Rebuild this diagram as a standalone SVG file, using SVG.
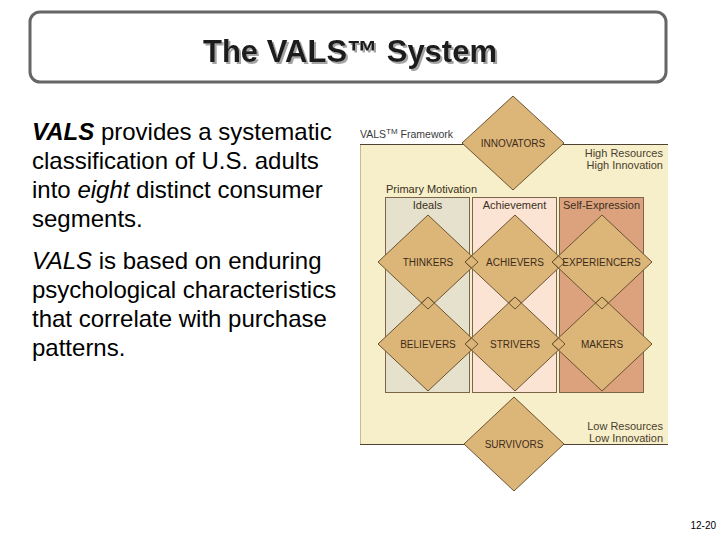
<svg xmlns="http://www.w3.org/2000/svg" width="720" height="540" viewBox="0 0 720 540">
<defs>
<filter id="shadow" x="-5%" y="-20%" width="110%" height="140%">
<feDropShadow dx="2" dy="2" stdDeviation="0.6" flood-color="#9a9a9a" flood-opacity="0.9"/>
</filter>
</defs>
<style>
text{font-family:"Liberation Sans",Arial,Helvetica,sans-serif}
.title{font-size:31px;font-weight:bold;fill:#1a1a1a}
.body{font-size:24px;fill:#000}
.fw{font-size:10.5px;fill:#3a3a3a}
.hdr{font-size:11px;fill:#3a3020;text-anchor:middle}
.res{font-size:11px;fill:#4a4030;text-anchor:end}
.dia{fill:#dcb678;stroke:#6b5332;stroke-width:1}
.dlab{font-size:10px;fill:#3d2b18;text-anchor:middle}
.jn{fill:none;stroke:#6b5332;stroke-width:1}
.col{stroke:#7a6548;stroke-width:1}
</style>

<g id="title">
<rect x="30" y="12" width="636" height="70" rx="10" ry="10" fill="#fff" stroke="#666" stroke-width="3"/>
<text class="title" x="350" y="62" text-anchor="middle" filter="url(#shadow)">The VALS™ System</text>
</g>

<g id="body-text">
<text class="body" x="32" y="140"><tspan font-weight="bold" font-style="italic">VALS</tspan> provides a systematic</text>
<text class="body" x="32" y="169">classification of U.S. adults</text>
<text class="body" x="32" y="198">into <tspan font-style="italic">eight</tspan> distinct consumer</text>
<text class="body" x="32" y="227">segments.</text>
<text class="body" x="32" y="269"><tspan font-style="italic">VALS</tspan> is based on enduring</text>
<text class="body" x="32" y="298">psychological characteristics</text>
<text class="body" x="32" y="327">that correlate with purchase</text>
<text class="body" x="32" y="356">patterns.</text>
</g>

<g id="framework">
<rect x="360" y="144" width="308" height="301" fill="#f6efc9"/>
<line x1="360.5" y1="144" x2="360.5" y2="445" stroke="#c9b98c" stroke-width="1"/>
<line x1="360" y1="144.5" x2="668" y2="144.5" stroke="#4f4232" stroke-width="1.2"/>
<line x1="360" y1="444.5" x2="668" y2="444.5" stroke="#4f4232" stroke-width="1.2"/>
<text class="fw" x="360" y="138">VALS<tspan font-size="8" dy="-4">TM</tspan><tspan dy="4"> Framework</tspan></text>
<text class="res" x="663" y="157">High Resources</text>
<text class="res" x="663" y="169">High Innovation</text>
<text class="res" x="663" y="430">Low Resources</text>
<text class="res" x="663" y="442">Low Innovation</text>
<text x="386" y="193" style="font-size:11px;fill:#3a3020">Primary Motivation</text>
</g>

<g id="columns">
<g id="col-ideals">
<rect class="col" x="385.5" y="197.5" width="84" height="195" fill="#e6e1cd"/>
<text class="hdr" x="427.5" y="208.5">Ideals</text>
</g>
<g id="col-achievement">
<rect class="col" x="472.5" y="197.5" width="84" height="195" fill="#fce4d5"/>
<text class="hdr" x="514.5" y="208.5">Achievement</text>
</g>
<g id="col-selfexpression">
<rect class="col" x="559.5" y="197.5" width="84" height="195" fill="#dca27d"/>
<text class="hdr" x="601.5" y="208.5">Self-Expression</text>
</g>
</g>

<g id="innovators">
<polygon class="dia" points="513,96 564,143 513,190 462,143"/>
<text class="dlab" x="513" y="147">INNOVATORS</text>
</g>
<g id="thinkers">
<polygon class="dia" points="428,215 478,262 428,309 378,262"/>
<text class="dlab" x="428" y="265.5">THINKERS</text>
</g>
<g id="achievers">
<polygon class="dia" points="515,215 565,262 515,309 465,262"/>
<text class="dlab" x="515" y="265.5">ACHIEVERS</text>
</g>
<g id="experiencers">
<polygon class="dia" points="602,215 652,262 602,309 552,262"/>
<text class="dlab" x="601.5" y="265.5">EXPERIENCERS</text>
</g>
<g id="believers">
<polygon class="dia" points="428,297 478,344 428,391 378,344"/>
<text class="dlab" x="428" y="347.5">BELIEVERS</text>
</g>
<g id="strivers">
<polygon class="dia" points="515,297 565,344 515,391 465,344"/>
<text class="dlab" x="515" y="347.5">STRIVERS</text>
</g>
<g id="makers">
<polygon class="dia" points="602,297 652,344 602,391 552,344"/>
<text class="dlab" x="602" y="347.5">MAKERS</text>
</g>
<g id="survivors">
<polygon class="dia" points="514,397 564,444 514,491 464,444"/>
<text class="dlab" x="514" y="447.5">SURVIVORS</text>
</g>

<g id="connectors">
<polygon class="jn" points="471.5,255.9 478,262 471.5,268.1 465,262"/>
<polygon class="jn" points="558.5,255.9 565,262 558.5,268.1 552,262"/>
<polygon class="jn" points="471.5,337.9 478,344 471.5,350.1 465,344"/>
<polygon class="jn" points="558.5,337.9 565,344 558.5,350.1 552,344"/>
<polygon class="jn" points="428,297 434.4,303 428,309 421.6,303"/>
<polygon class="jn" points="515,297 521.4,303 515,309 508.6,303"/>
<polygon class="jn" points="602,297 608.4,303 602,309 595.6,303"/>
</g>

<text x="716" y="529" text-anchor="end" style="font-size:10px;fill:#000">12-20</text>
</svg>
